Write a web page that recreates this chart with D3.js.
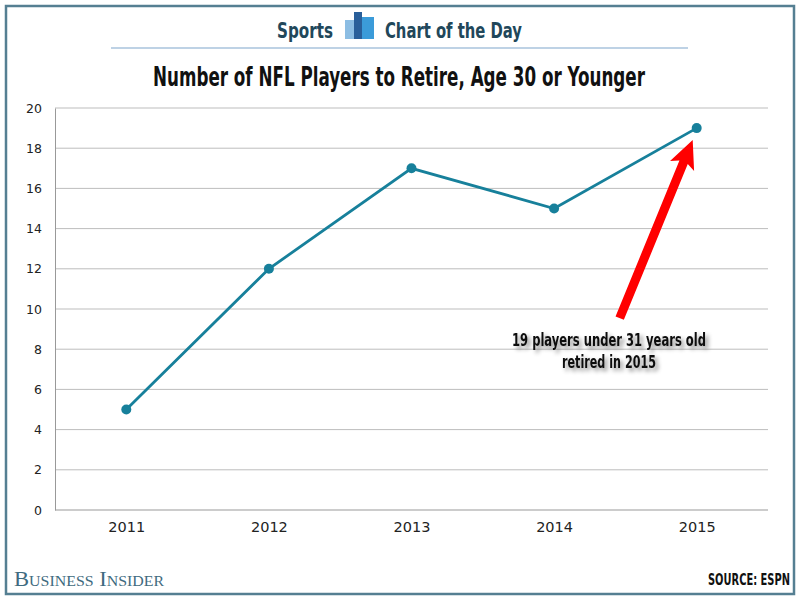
<!DOCTYPE html>
<html>
<head>
<meta charset="utf-8">
<script src="https://cdn.jsdelivr.net/npm/d3@7"></script>
<style>
  body { margin: 0; background: #fff; }
  svg { display: block; }
</style>
</head>
<body>
<div id="chart"></div>
<script>
// data
var years = ["2011", "2012", "2013", "2014", "2015"]
var players = [5, 12, 17, 15, 19]
var yTicks = [0, 2, 4, 6, 8, 10, 12, 14, 16, 18, 20]

var W = 800, H = 600
var margin = {top: 108, right: 32, bottom: 90, left: 55}

var svg = d3.select("#chart").append("svg")
    .attr("width", W)
    .attr("height", H)

// no narrow font installed, so squeeze bold text horizontally
var narrow = "'Liberation Sans Narrow', 'DejaVu Sans Condensed', 'DejaVu Sans', sans-serif"

function squeezed(g, txt, xPos, yPos, size, len, anchor, family, weight) {
  var t = g.append("text")
    .attr("text-anchor", anchor || "start")
    .style("font-family", family || narrow)
    .style("font-weight", weight || "bold")
    .style("font-size", size + "px")
    .text(txt)
  var w = t.node().getComputedTextLength()
  var s = w > 0 ? len / w : 1
  t.attr("transform", "translate(" + xPos + "," + yPos + ") scale(" + s + ",1)")
  return t
}

// frame
svg.append("rect")
  .attr("x", 6).attr("y", 6)
  .attr("width", W - 12).attr("height", H - 12)
  .attr("fill", "none")
  .attr("stroke", "#557f92")
  .attr("stroke-width", 2.5)

// header
var head = svg.append("g")
squeezed(head, "Sports", 277, 38, 22, 56).attr("fill", "#21475a")
squeezed(head, "Chart of the Day", 385, 38, 22, 137).attr("fill", "#21475a")
// little bar icon
head.append("rect").attr("x", 345).attr("y", 20).attr("width", 13).attr("height", 19).attr("fill", "#8cbde3")
head.append("rect").attr("x", 362).attr("y", 17).attr("width", 12).attr("height", 22).attr("fill", "#3b9bd9")
head.append("rect").attr("x", 354).attr("y", 12).attr("width", 8).attr("height", 27).attr("fill", "#2a5f9a")
head.append("line")
  .attr("x1", 111).attr("x2", 688)
  .attr("y1", 48).attr("y2", 48)
  .attr("stroke", "#a9c3dd")
  .attr("stroke-width", 1.5)

// title
squeezed(svg, "Number of NFL Players to Retire, Age 30 or Younger", 153, 86, 26, 492).attr("fill", "#111")

// scales
var x = d3.scalePoint()
  .domain(years)
  .range([margin.left, W - margin.right])
  .padding(0.5)

var y = d3.scaleLinear()
  .domain([0, 20])
  .range([H - margin.bottom, margin.top])

// gridlines
svg.append("g")
  .selectAll("line")
  .data(yTicks.filter(function(d) { return d > 0 }))
  .join("line")
    .attr("x1", margin.left).attr("x2", W - margin.right)
    .attr("y1", function(d) { return y(d) })
    .attr("y2", function(d) { return y(d) })
    .attr("stroke", "#bdbdbd")
    .attr("stroke-width", 1)

// axes
var yAxis = svg.append("g")
  .attr("transform", "translate(" + margin.left + ",0)")
  .call(d3.axisLeft(y).tickValues(yTicks).tickSize(0).tickPadding(13))
yAxis.select(".domain").attr("stroke", "#999")
yAxis.selectAll("text")
  .style("font-family", "'DejaVu Sans', Verdana, sans-serif")
  .style("font-size", "12.5px")
  .attr("fill", "#222")

var xAxis = svg.append("g")
  .attr("transform", "translate(0," + (H - margin.bottom) + ")")
  .call(d3.axisBottom(x).tickSize(0).tickPadding(12))
xAxis.select(".domain").attr("stroke", "#999").attr("d", "M" + margin.left + ",0H" + (W - margin.right))
xAxis.selectAll("text")
  .style("font-family", "'DejaVu Sans', Verdana, sans-serif")
  .style("font-size", "14.5px")
  .attr("fill", "#222")

// line + points
var lineData = years.map(function(yr, i) { return {year: yr, value: players[i]} })

svg.append("path")
  .datum(lineData)
  .attr("fill", "none")
  .attr("stroke", "#17809b")
  .attr("stroke-width", 2.8)
  .attr("d", d3.line()
    .x(function(d) { return x(d.year) })
    .y(function(d) { return y(d.value) }))

svg.append("g")
  .selectAll("circle")
  .data(lineData)
  .join("circle")
    .attr("cx", function(d) { return x(d.year) })
    .attr("cy", function(d) { return y(d.value) })
    .attr("r", 5)
    .attr("fill", "#17809b")

// annotation arrow pointing at 2015
var last = lineData[lineData.length - 1]
var tipX = x(last.year) - 4, tipY = y(last.value) + 12
var tailX = x(last.year) - 77, tailY = y(last.value) + 190
var ang = Math.atan2(tipY - tailY, tipX - tailX)
var headLen = 28, headW = 13, shaftW = 4.5
function pt(dist, off) {
  return [tipX - Math.cos(ang) * dist - Math.sin(ang) * off,
          tipY - Math.sin(ang) * dist + Math.cos(ang) * off]
}
var arrowPts = [pt(0, 0), pt(headLen, headW), pt(headLen - 4, shaftW),
  [tailX - Math.sin(ang) * shaftW, tailY + Math.cos(ang) * shaftW],
  [tailX + Math.sin(ang) * shaftW, tailY - Math.cos(ang) * shaftW],
  pt(headLen - 4, -shaftW), pt(headLen, -headW)]
svg.append("path")
  .attr("d", "M" + arrowPts.map(function(p) { return p.join(",") }).join("L") + "Z")
  .attr("fill", "#ff0000")

// annotation text with soft shadow
var defs = svg.append("defs")
var f = defs.append("filter").attr("id", "shadow").attr("x", "-10%").attr("y", "-30%").attr("width", "120%").attr("height", "160%")
f.append("feDropShadow").attr("dx", 3).attr("dy", 3).attr("stdDeviation", 2).attr("flood-color", "#000").attr("flood-opacity", 0.45)

var note = svg.append("g").attr("filter", "url(#shadow)")
squeezed(note, "19 players under 31 years old", 609, 346, 18, 194, "middle").attr("fill", "#111")
squeezed(note, "retired in 2015", 609, 368, 18, 94, "middle").attr("fill", "#111")

// footer
squeezed(svg, "Business Insider", 14, 586, 20, 149, "start", "'Liberation Serif', 'DejaVu Serif', serif", "normal")
  .style("font-variant", "small-caps")
  .attr("fill", "#3f6b80")

squeezed(svg, "SOURCE: ESPN", 708, 585, 16, 82).attr("fill", "#111")
</script>
</body>
</html>
